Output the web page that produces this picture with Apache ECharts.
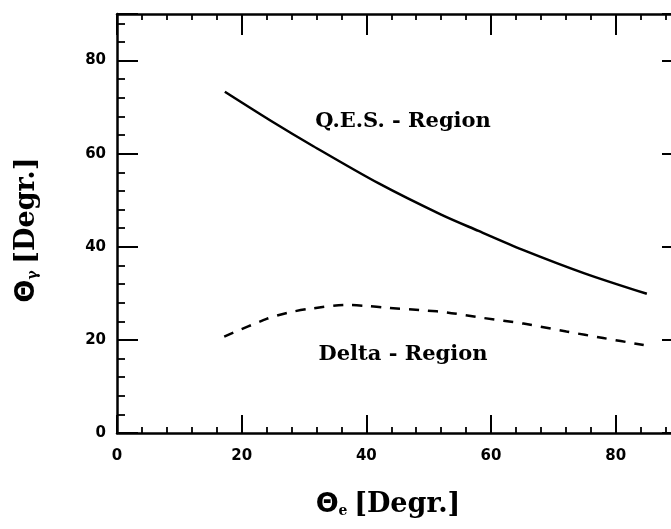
<!DOCTYPE html>
<html>
<head>
<meta charset="utf-8">
<script src="https://cdn.jsdelivr.net/npm/echarts@6/dist/echarts.min.js"></script>
<style>html,body{margin:0;padding:0;background:#fff;}#c{width:671px;height:529px;}</style>
</head>
<body>
<div id="c"></div>
<script>
// Data
const qesX = [17.3, 25, 31.5, 42, 52, 58, 65, 75, 85];
const qesY = [73.3, 66.8, 61.6, 53.6, 46.9, 43.4, 39.4, 34.3, 29.9];
const deltaX = [17.2, 24, 27.3, 31, 36.9, 40, 43.3, 49.7, 52.9, 58.8, 65.2, 72.1, 78, 84.5];
const deltaY = [20.7, 24.5, 25.8, 26.7, 27.5, 27.3, 26.9, 26.3, 25.9, 24.7, 23.5, 21.8, 20.4, 18.9];
const xTickLabels = ['0', '20', '40', '60', '80'];
const yTickLabels = ['0', '20', '40', '60', '80'];
const xTitle = ['Θ', 'e', '[Degr.]'];
const yTitle = ['Θ', 'γ', '[Degr.]'];
const regionLabels = ['Q.E.S. - Region', 'Delta - Region'];

const zip = (a, b) => a.map((v, i) => [v, b[i]]);
const AX = {min: 0, max: 90};
const lineStyle = {color: '#000', width: 2.5};
const labelStyle = {
  color: '#000', fontFamily: 'DejaVu Sans', fontWeight: 'bold', fontSize: 15
};

function majorAxis(pos, showLabels, tickLen, list, margin) {
  return {
    type: 'value', position: pos, min: AX.min, max: AX.max, interval: 20,
    axisLine: {show: true, onZero: false, lineStyle: lineStyle},
    axisTick: {show: true, inside: true, length: tickLen, lineStyle: {color: '#000', width: 2}},
    splitLine: {show: false},
    axisLabel: showLabels ? Object.assign({
      show: true, margin: margin,
      formatter: v => (list.indexOf(String(v)) >= 0 ? String(v) : '')
    }, labelStyle) : {show: false}
  };
}
function minorAxis(pos, tickLen) {
  return {
    type: 'value', position: pos, min: AX.min, max: AX.max, interval: 4,
    axisLine: {show: false, onZero: false},
    axisTick: {show: true, inside: true, length: tickLen, lineStyle: {color: '#000', width: 1.8}},
    splitLine: {show: false},
    axisLabel: {show: false}
  };
}

const titleRich = {
  a: {fontFamily: 'DejaVu Sans', fontWeight: 'bold', fontSize: 27, fill: '#000'},
  s: {fontFamily: 'DejaVu Serif', fontWeight: 'bold', fontSize: 14, fill: '#000', verticalAlign: 'bottom', padding: [12, 0, 0, 0]},
  b: {fontFamily: 'DejaVu Serif', fontWeight: 'bold', fontSize: 27, fill: '#000'}
};

const chart = echarts.init(document.getElementById('c'), null, {renderer: 'canvas'});
chart.setOption({
  backgroundColor: '#fff',
  animation: false,
  grid: {left: 117, top: 14, width: 561, height: 419, outerBoundsMode: 'none', containLabel: false},
  xAxis: [
    majorAxis('bottom', true, 18, xTickLabels, 16),
    minorAxis('bottom', 6),
    majorAxis('top', false, 21, xTickLabels, 8),
    minorAxis('top', 6)
  ],
  yAxis: [
    majorAxis('left', true, 21, yTickLabels, 11),
    minorAxis('left', 8),
    majorAxis('right', false, 16, yTickLabels, 8),
    minorAxis('right', 5)
  ],
  series: [
    {
      type: 'line', xAxisIndex: 0, yAxisIndex: 0, smooth: 0.3, symbol: 'none',
      data: zip(qesX, qesY),
      lineStyle: {color: '#000', width: 2.5}
    },
    {
      type: 'line', xAxisIndex: 0, yAxisIndex: 0, smooth: 0.3, symbol: 'none',
      data: zip(deltaX, deltaY),
      lineStyle: {color: '#000', width: 2.5, type: [10, 9]}
    }
  ],
  graphic: [
    {
      type: 'text', x: 403, y: 122,
      style: {text: regionLabels[0], fill: '#000', font: 'bold 21px "DejaVu Serif"',
        align: 'center', verticalAlign: 'middle'}
    },
    {
      type: 'text', x: 403, y: 355,
      style: {text: regionLabels[1], fill: '#000', font: 'bold 21px "DejaVu Serif"',
        align: 'center', verticalAlign: 'middle'}
    },
    {
      type: 'text', x: 388, y: 505,
      style: {
        text: '{a|' + xTitle[0] + '}{s|' + xTitle[1] + '}  {b|' + xTitle[2] + '}',
        align: 'center', verticalAlign: 'middle', rich: titleRich
      }
    },
    {
      type: 'text', x: 27, y: 230, rotation: Math.PI / 2,
      style: {
        text: '{a|' + yTitle[0] + '}{s|' + yTitle[1] + '}  {b|' + yTitle[2] + '}',
        align: 'center', verticalAlign: 'middle', rich: titleRich
      }
    }
  ]
});
</script>
</body>
</html>
